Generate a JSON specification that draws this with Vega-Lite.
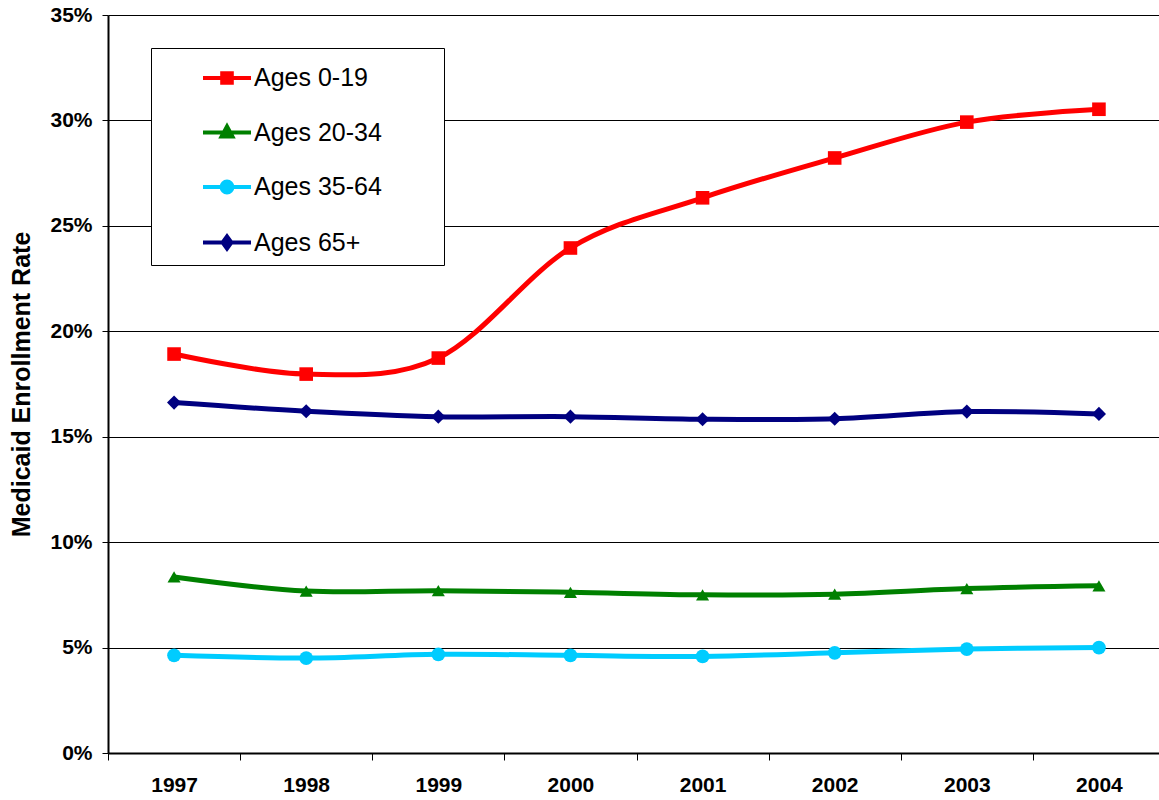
{
  "$schema": "https://vega.github.io/schema/vega-lite/v6.json",
  "width": 1051,
  "height": 738,
  "autosize": "none",
  "padding": {"left": 108, "top": 15, "right": 0, "bottom": 47},
  "background": "white",
  "config": {
    "view": {"stroke": null},
    "font": "Liberation Sans"
  },
  "data": {
    "values": [
      {"year": "1997", "group": "Ages 0-19", "rate": 0.1892},
      {"year": "1998", "group": "Ages 0-19", "rate": 0.1797},
      {"year": "1999", "group": "Ages 0-19", "rate": 0.1873},
      {"year": "2000", "group": "Ages 0-19", "rate": 0.2395},
      {"year": "2001", "group": "Ages 0-19", "rate": 0.2633},
      {"year": "2002", "group": "Ages 0-19", "rate": 0.2822},
      {"year": "2003", "group": "Ages 0-19", "rate": 0.2992},
      {"year": "2004", "group": "Ages 0-19", "rate": 0.3053},
      {"year": "1997", "group": "Ages 20-34", "rate": 0.0835},
      {"year": "1998", "group": "Ages 20-34", "rate": 0.0768},
      {"year": "1999", "group": "Ages 20-34", "rate": 0.0770},
      {"year": "2000", "group": "Ages 20-34", "rate": 0.0762},
      {"year": "2001", "group": "Ages 20-34", "rate": 0.0750},
      {"year": "2002", "group": "Ages 20-34", "rate": 0.0753},
      {"year": "2003", "group": "Ages 20-34", "rate": 0.0780},
      {"year": "2004", "group": "Ages 20-34", "rate": 0.0793},
      {"year": "1997", "group": "Ages 35-64", "rate": 0.0463},
      {"year": "1998", "group": "Ages 35-64", "rate": 0.0450},
      {"year": "1999", "group": "Ages 35-64", "rate": 0.0468},
      {"year": "2000", "group": "Ages 35-64", "rate": 0.0463},
      {"year": "2001", "group": "Ages 35-64", "rate": 0.0458},
      {"year": "2002", "group": "Ages 35-64", "rate": 0.0475},
      {"year": "2003", "group": "Ages 35-64", "rate": 0.0493},
      {"year": "2004", "group": "Ages 35-64", "rate": 0.0500},
      {"year": "1997", "group": "Ages 65+", "rate": 0.1662},
      {"year": "1998", "group": "Ages 65+", "rate": 0.1621},
      {"year": "1999", "group": "Ages 65+", "rate": 0.1595},
      {"year": "2000", "group": "Ages 65+", "rate": 0.1595},
      {"year": "2001", "group": "Ages 65+", "rate": 0.1583},
      {"year": "2002", "group": "Ages 65+", "rate": 0.1585},
      {"year": "2003", "group": "Ages 65+", "rate": 0.1619},
      {"year": "2004", "group": "Ages 65+", "rate": 0.1608}
    ]
  },
  "encoding": {
    "x": {
      "field": "year", "type": "ordinal",
      "scale": {"paddingInner": 0, "paddingOuter": 0, "range": [0, 1057]},
      "axis": {
        "title": null, "labelAngle": 0, "tickBand": "extent",
        "domainColor": "black", "domainWidth": 2,
        "tickColor": "black", "tickSize": 7, "tickWidth": 1,
        "labelFont": "Liberation Sans", "labelFontWeight": "bold", "labelFontSize": 21,
        "labelColor": "black", "labelPadding": 14, "grid": false
      }
    },
    "y": {
      "field": "rate", "type": "quantitative",
      "scale": {"domain": [0, 0.35], "nice": false},
      "axis": {
        "title": "Medicaid Enrollment Rate",
        "titleFont": "Liberation Sans", "titleFontWeight": "bold", "titleFontSize": 25,
        "titleColor": "black", "titlePadding": 15,
        "values": [0, 0.05, 0.1, 0.15, 0.2, 0.25, 0.3, 0.35],
        "format": ".0%",
        "labelFont": "Liberation Sans", "labelFontWeight": "bold", "labelFontSize": 21,
        "labelColor": "black", "labelPadding": 10,
        "domainColor": "black", "domainWidth": 2,
        "tickColor": "black", "tickSize": 6, "tickWidth": 1,
        "grid": true, "gridColor": "black", "gridWidth": 1, "gridOpacity": 1
      }
    },
    "color": {
      "field": "group", "type": "nominal",
      "scale": {
        "domain": ["Ages 0-19", "Ages 20-34", "Ages 35-64", "Ages 65+"],
        "range": ["#FF0000", "#008000", "#00CCFF", "#000080"]
      },
      "legend": {
        "title": null,
        "orient": "none",
        "legendX": 43,
        "legendY": 33,
        "fillColor": "white",
        "strokeColor": "black",
        "padding": 8,
        "symbolSize": 1600,
        "symbolStrokeWidth": 4,
        "symbolOffset": 46,
        "labelOffset": 5,
        "rowPadding": 19.5,
        "labelFont": "Liberation Sans",
        "labelFontSize": 25,
        "labelColor": "black",
        "labelLimit": 400,
        "labelExpr": "datum.label + '\u2800\u2800\u2800'",
        "encode": {
          "symbols": {
            "update": {
              "shape": {"signal": "datum.value == 'Ages 0-19' ? 'M-1.2,0H1.2M-0.24,-0.24H0.24V0.24H-0.24Z' : datum.value == 'Ages 20-34' ? 'M-1.2,0H1.2M0,-0.3L0.27,0.2H-0.27Z' : datum.value == 'Ages 35-64' ? 'M-1.2,0H1.2M-0.27,0A0.27,0.27,0,1,0,0.27,0A0.27,0.27,0,1,0,-0.27,0Z' : 'M-1.2,0H1.2M0,-0.3L0.22,0L0,0.3L-0.22,0Z'"},
              "fill": {"scale": "color", "field": "value"},
              "stroke": {"scale": "color", "field": "value"},
              "strokeWidth": {"value": 4},
              "opacity": {"value": 1},
              "fillOpacity": {"value": 1},
              "strokeOpacity": {"value": 1}
            }
          }
        }
      }
    }
  },
  "layer": [
    {
      "mark": {"type": "line", "interpolate": "cardinal", "strokeWidth": 5}
    },
    {
      "transform": [{"filter": "datum.group == 'Ages 0-19'"}],
      "mark": {"type": "point", "filled": true, "opacity": 1, "size": 185, "shape": "square"}
    },
    {
      "transform": [{"filter": "datum.group == 'Ages 20-34'"}],
      "mark": {"type": "point", "filled": true, "opacity": 1, "size": 170, "shape": "triangle-up"}
    },
    {
      "transform": [{"filter": "datum.group == 'Ages 35-64'"}],
      "mark": {"type": "point", "filled": true, "opacity": 1, "size": 190, "shape": "circle"}
    },
    {
      "transform": [{"filter": "datum.group == 'Ages 65+'"}],
      "mark": {"type": "point", "filled": true, "opacity": 1, "size": 200, "shape": "diamond"}
    }
  ]
}
